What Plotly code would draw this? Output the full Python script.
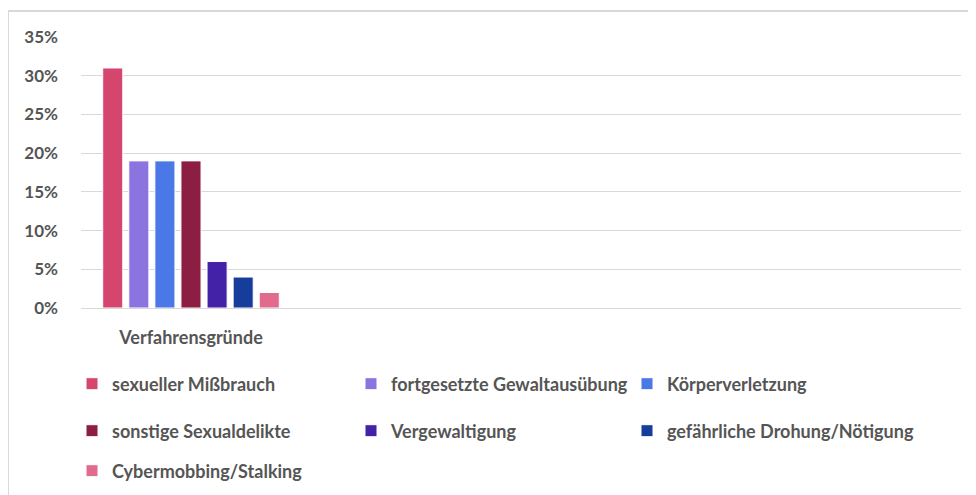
import plotly.graph_objects as go

categories = ["Verfahrensgründe"]
series_names = [
    "sexueller Mißbrauch",
    "fortgesetzte Gewaltausübung",
    "Körperverletzung",
    "sonstige Sexualdelikte",
    "Vergewaltigung",
    "gefährliche Drohung/Nötigung",
    "Cybermobbing/Stalking",
]
series_values = [31, 19, 19, 19, 6, 4, 2]
series_colors = ["#d5466f", "#8b74e0", "#4a78e6", "#8b1e42", "#4322a8", "#163c9c", "#e06b8d"]
y_ticks = [0, 5, 10, 15, 20, 25, 30, 35]
y_tick_labels = ["0%", "5%", "10%", "15%", "20%", "25%", "30%", "35%"]

FONT = "Lato"
TXT = "#555555"

# page has an 8px body margin, so the figure is drawn 8px in from the top-left
OFF = 8
W, H = 976 - OFF, 495 - OFF
L, R, T, B = 81 - OFF, 15, 37 - OFF, 187

# legend grid: 3 columns, rows of 3/3/1 entries (page pixel anchors)
LEG_COLS = [86, 365, 641]
LEG_ROWS = [384, 431, 471]

fig = go.Figure()
legends = {}
for i, (name, val, col) in enumerate(zip(series_names, series_values, series_colors)):
    key = "legend" if i == 0 else f"legend{i + 1}"
    fig.add_trace(go.Bar(
        x=[0], y=[val], name=name, legend=key,
        marker=dict(color=col, line=dict(color="white", width=1)),
        hoverinfo="skip",
    ))
    cx = LEG_COLS[i % 3]
    cy = LEG_ROWS[i // 3]
    legends[key] = dict(
        orientation="h", xref="container", yref="container",
        x=(cx - OFF - 14) / W, y=1 - (cy - OFF) / H,
        xanchor="left", yanchor="middle",
        font=dict(family=FONT, size=18, color=TXT, weight="bold"),
        bgcolor="rgba(0,0,0,0)", itemclick=False, itemdoubleclick=False,
    )

fig.update_layout(
    width=W, height=H,
    margin=dict(l=L, r=R, t=T, b=B, autoexpand=False),
    paper_bgcolor="white", plot_bgcolor="white",
    barmode="group", bargap=0.17, bargroupgap=0.23,
    showlegend=True,
    font=dict(family=FONT, color=TXT),
    xaxis=dict(
        range=[-0.5, 3.5], tickvals=[0], ticktext=categories,
        showgrid=False, zeroline=False, showline=False, ticks="",
        ticklabelstandoff=17, automargin=False,
        tickfont=dict(family=FONT, size=18, color=TXT, weight="bold"),
        fixedrange=True,
    ),
    yaxis=dict(
        range=[0, 35], tickvals=y_ticks, ticktext=y_tick_labels,
        showgrid=True, gridcolor="#d9d9d9", gridwidth=1,
        zeroline=True, zerolinecolor="#d9d9d9", zerolinewidth=1,
        showline=False, ticks="", ticklabelstandoff=22, automargin=False,
        tickfont=dict(family=FONT, size=17, color=TXT, weight="bold"),
        fixedrange=True,
    ),
    **legends,
)

# outer frame of the chart
fig.add_shape(
    type="rect", xref="paper", yref="paper",
    x0=(8 - 81) / (W - L - R), x1=1.2,
    y0=-1.0, y1=(308 - 11) / (H - T - B),
    line=dict(color="#d9d9d9", width=2), fillcolor="rgba(0,0,0,0)", layer="below",
)

fig.write_html("out.html")
